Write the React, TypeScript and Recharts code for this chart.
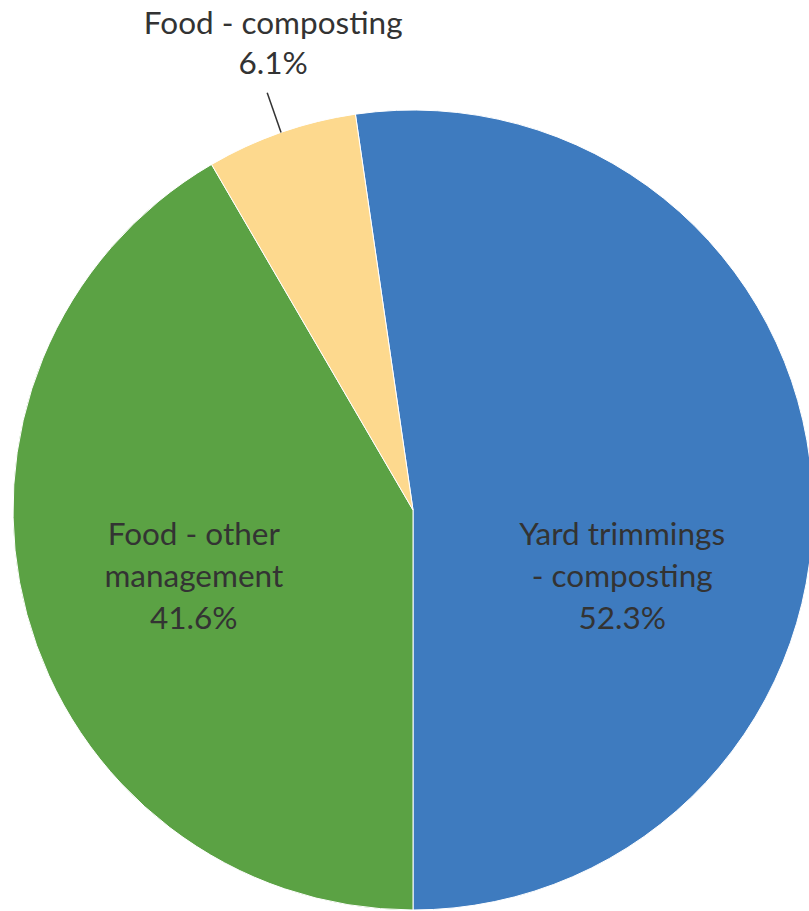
import React from 'react';
import { PieChart, Pie, Cell } from 'recharts';

const categories = ['Yard trimmings - composting', 'Food - other management', 'Food - composting'];
const shares = [52.3, 41.6, 6.1];
const labelLines = [
  ['Yard trimmings', '- composting'],
  ['Food - other', 'management'],
  ['Food - composting'],
];
const colors = ['#3e7bbf', '#5ba244', '#fdd98e'];

const data = categories.map((name, i) => ({ name, value: shares[i] }));

const RAD = Math.PI / 180;
const FONT = 'Lato, "Open Sans", sans-serif';
const FONT_SIZE = 31.5;
const LINE_H = 42;

// inside labels sit at a fixed offset from the centre (fraction of radius)
const insideAnchors: Record<number, [number, number]> = {
  0: [0.523, 0.088],
  1: [-0.548, 0.088],
};

const renderLabel = (props: any) => {
  const { cx, cy, outerRadius, midAngle, index, value } = props;
  const lines = [...labelLines[index], `${value.toFixed(1)}%`];
  if (insideAnchors[index]) {
    const [fx, fy] = insideAnchors[index];
    const x = cx + fx * outerRadius;
    const y = cy + fy * outerRadius;
    return (
      <text x={x} y={y} textAnchor="middle" fill="#333" fontFamily={FONT} fontSize={FONT_SIZE}>
        {lines.map((l, i) => (
          <tspan key={i} x={x} dy={i === 0 ? 0 : LINE_H}>{l}</tspan>
        ))}
      </text>
    );
  }
  // outside label with a short leader
  const cos = Math.cos(-midAngle * RAD);
  const sin = Math.sin(-midAngle * RAD);
  const x1 = cx + outerRadius * cos;
  const y1 = cy + outerRadius * sin;
  const x2 = cx + (outerRadius + 42) * cos;
  const y2 = cy + (outerRadius + 42) * sin;
  const tx = x2 + 6;
  const ty = y2 - 19 - (LINE_H - 2) * (lines.length - 1);
  return (
    <g>
      <line x1={x1} y1={y1} x2={x2} y2={y2} stroke="#333" strokeWidth={1.5} />
      <text x={tx} y={ty} textAnchor="middle" fill="#333" fontFamily={FONT} fontSize={FONT_SIZE}>
        {lines.map((l, i) => (
          <tspan key={i} x={tx} dy={i === 0 ? 0 : LINE_H - 2}>{l}</tspan>
        ))}
      </text>
    </g>
  );
};

const App: React.FC = () => {
  // first slice ends at the bottom of the pie, drawn clockwise
  const start = -90 + (shares[0] / 100) * 360;
  return (
    <div style={{ position: 'absolute', left: 0, top: 0, width: 809, height: 911, background: '#fff' }}>
      <PieChart width={809} height={911} margin={{ top: 0, right: 0, bottom: 0, left: 0 }}>
        <Pie
          data={data}
          dataKey="value"
          nameKey="name"
          cx={413}
          cy={510}
          outerRadius={400}
          startAngle={start}
          endAngle={start - 360}
          stroke="#fff"
          strokeWidth={1}
          label={renderLabel}
          labelLine={false}
          isAnimationActive={false}
        >
          {data.map((d, i) => (
            <Cell key={d.name} fill={colors[i]} />
          ))}
        </Pie>
      </PieChart>
    </div>
  );
};

export default App;
